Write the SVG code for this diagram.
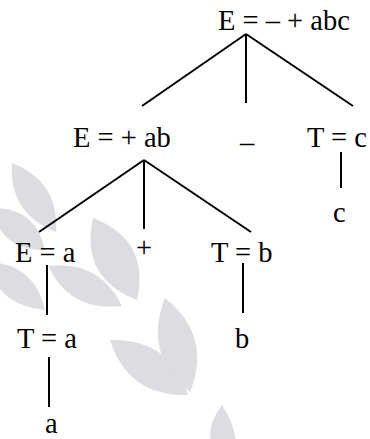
<svg xmlns="http://www.w3.org/2000/svg" width="370" height="439" viewBox="0 0 370 439">
<style>
.t{font-family:"Liberation Serif","Times New Roman",serif;font-size:28.5px;fill:#000}
.c line{stroke:#000;stroke-width:2;fill:none}
.wm path{fill:#dcdde0}
</style>
<rect width="370" height="439" fill="#fff"/>
<g id="watermark" class="wm">
<path d="M12,163 Q8.7,213.6 56,232 Q59.3,181.4 12,163Z"/>
<path d="M-8,208 Q1.1,251 45,250 Q35.9,207 -8,208Z"/>
<path d="M93,218 Q79.7,277.9 137,300 Q150.3,240.1 93,218Z"/>
<path d="M48,266 Q70.7,312.4 122,306 Q99.3,259.6 48,266Z"/>
<path d="M-10,262 Q-5,305 45,310 Q35,265 -10,262Z"/>
<path d="M110,340 Q128.2,396.9 188,395 Q169.8,338.1 110,340Z"/>
<path d="M165,298 Q142.7,354.3 190,392 Q212.3,335.7 165,298Z"/>
<path d="M222,405 Q245,440 230,470 Q195,440 222,405Z"/>
</g>
<g id="connectors" class="c">
<line x1="246" y1="34" x2="142" y2="106"/>
<line x1="246" y1="34" x2="246" y2="103"/>
<line x1="246" y1="34" x2="353" y2="106"/>
<line x1="341" y1="152" x2="341" y2="188"/>
<line x1="144" y1="160" x2="39" y2="232"/>
<line x1="144" y1="160" x2="144" y2="229"/>
<line x1="144" y1="160" x2="251" y2="232"/>
<line x1="47" y1="265" x2="47" y2="315"/>
<line x1="243" y1="263" x2="243" y2="313"/>
<line x1="49" y1="357" x2="49" y2="407"/>
</g>
<g id="n-root"><text class="t" x="218" y="29.5">E = – + abc</text></g>
<g id="n-e-ab"><text class="t" x="73" y="147">E = + ab</text></g>
<g id="n-minus"><text class="t" x="240" y="152">–</text></g>
<g id="n-t-c"><text class="t" x="307" y="147">T = c</text></g>
<g id="n-c"><text class="t" x="333" y="222">c</text></g>
<g id="n-e-a"><text class="t" x="15" y="262">E = a</text></g>
<g id="n-plus"><text class="t" x="136" y="257">+</text></g>
<g id="n-t-b"><text class="t" x="211" y="262">T = b</text></g>
<g id="n-t-a"><text class="t" x="17" y="348">T = a</text></g>
<g id="n-b"><text class="t" x="235" y="348">b</text></g>
<g id="n-a"><text class="t" x="45" y="433">a</text></g>
</svg>
